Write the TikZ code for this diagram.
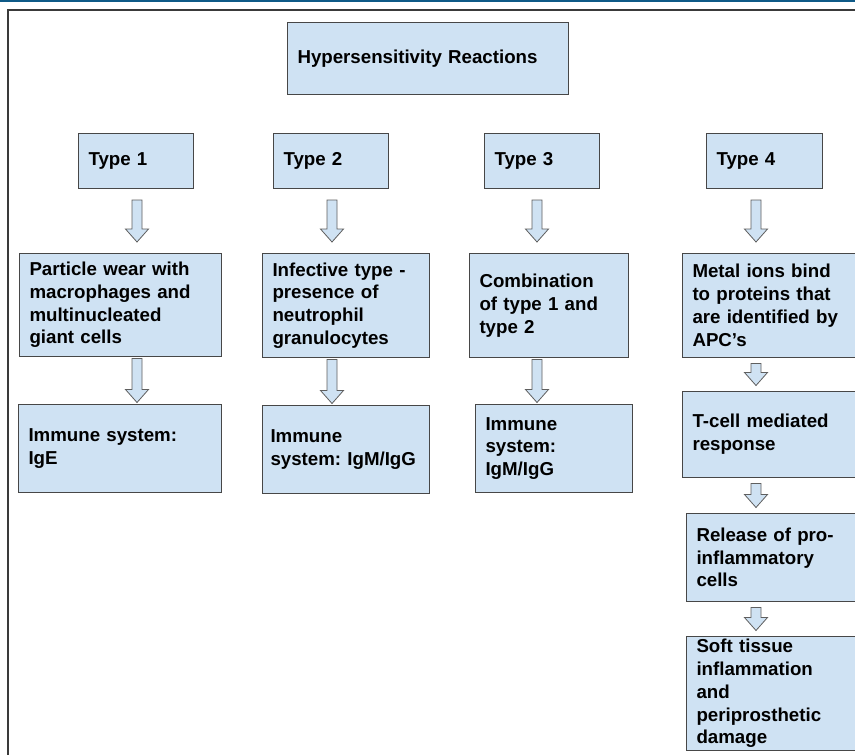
\documentclass[tikz,border=0pt]{standalone}
\usepackage{fontspec}
\setmainfont{Liberation Sans}
\usepackage{xcolor}
\usetikzlibrary{calc}

\definecolor{boxfill}{HTML}{CFE2F3}
\definecolor{boxline}{HTML}{474747}
\definecolor{arrowline}{HTML}{5F5F5F}
\definecolor{frameline}{HTML}{3A3A3A}
\definecolor{topbar}{HTML}{0F5A87}

\begin{document}
\begin{tikzpicture}[
    x=1pt, y=-1pt,
    box/.style={draw=boxline, fill=boxfill, line width=1pt, anchor=north west, align=left,
        inner xsep=10pt, inner ysep=0pt, font=\bfseries\fontsize{18.7}{22.8}\selectfont},
    blockarrow/.style={draw=arrowline, fill=boxfill, line width=0.8pt,
        to path={let \p1=(\tikztostart), \p2=(\tikztotarget) in
            (\x1-5pt,\y1-#1) -- (\x1+5pt,\y1-#1) -- (\x1+5pt,\y2+#1+13pt) -- (\x1+11.5pt,\y2+#1+13pt)
            -- (\x1,\y2+#1) -- (\x1-11.5pt,\y2+#1+13pt) -- (\x1-5pt,\y2+#1+13pt) -- cycle}}
]
\useasboundingbox (0,0) rectangle (855,755);
\clip (0,0) rectangle (855,755);
\fill[white] (0,0) rectangle (855,755);
\fill[topbar] (0,0) rectangle (855,1.6);
\draw[frameline, line width=1.2pt] (8,10) rectangle (880,780);

\coordinate (ax1) at (137,0);
\coordinate (ax2) at (332,0);
\coordinate (ax3) at (537,0);
\coordinate (ax4) at (756,0);

\node[box, text width=261pt, minimum height=72pt] (hyper) at (287,22) {Hypersensitivity Reactions};

\node[box, text width=95pt, minimum height=55pt] (type1) at (78,133) {Type 1};
\node[box, text width=95pt, minimum height=55pt] (type2) at (273,133) {Type 2};
\node[box, text width=95pt, minimum height=55pt] (type3) at (484,133) {Type 3};
\node[box, text width=96pt, minimum height=55pt] (type4) at (706,133) {Type 4};

\node[box, text width=182pt, minimum height=103pt] (particle) at (19,253) {Particle wear with\\macrophages and\\multinucleated\\giant cells};
\node[box, text width=147pt, minimum height=104pt] (infective) at (262,253) {Infective type -\\presence of\\neutrophil\\granulocytes};
\node[box, text width=139pt, minimum height=104pt] (combo) at (469,253) {Combination\\of type 1 and\\type 2};
\node[box, text width=170pt, minimum height=104pt] (metal) at (682,253) {Metal ions bind\\to proteins that\\are identified by\\APC’s};

\node[box, text width=183pt, minimum height=88pt] (ige) at (18,404) {Immune system:\\IgE};
\node[box, inner xsep=8pt, text width=151pt, minimum height=88pt] (igmtwo) at (262,405) {Immune\\system:~IgM/IgG};
\node[box, text width=137pt, minimum height=88pt] (igmthree) at (475,404) {Immune\\system:\\IgM/IgG};

\node[box, text width=170pt, minimum height=86pt] (tcell) at (682,391) {T-cell mediated\\response};
\node[box, text width=166pt, minimum height=88pt] (release) at (686,513) {Release of pro-\\inflammatory\\cells};
\node[box, text width=166pt, minimum height=114pt] (soft) at (686,636) {Soft tissue\\inflammation\\and\\periprosthetic\\damage};

\draw[blockarrow=11pt] (type1.south -| ax1) to (particle.north);
\draw[blockarrow=11pt] (type2.south -| ax2) to (infective.north);
\draw[blockarrow=11pt] (type3.south -| ax3) to (combo.north);
\draw[blockarrow=11pt] (type4.south -| ax4) to (metal.north);

\draw[blockarrow=1.5pt] (particle.south -| ax1) to (ige.north);
\draw[blockarrow=1.5pt] (infective.south -| ax2) to (igmtwo.north);
\draw[blockarrow=1.5pt] (combo.south -| ax3) to (igmthree.north);

\draw[blockarrow=5.5pt] (metal.south -| ax4) to (tcell.north);
\draw[blockarrow=5.5pt] (tcell.south -| ax4) to (release.north);
\draw[blockarrow=5.5pt] (release.south -| ax4) to (soft.north);
\end{tikzpicture}
\end{document}
